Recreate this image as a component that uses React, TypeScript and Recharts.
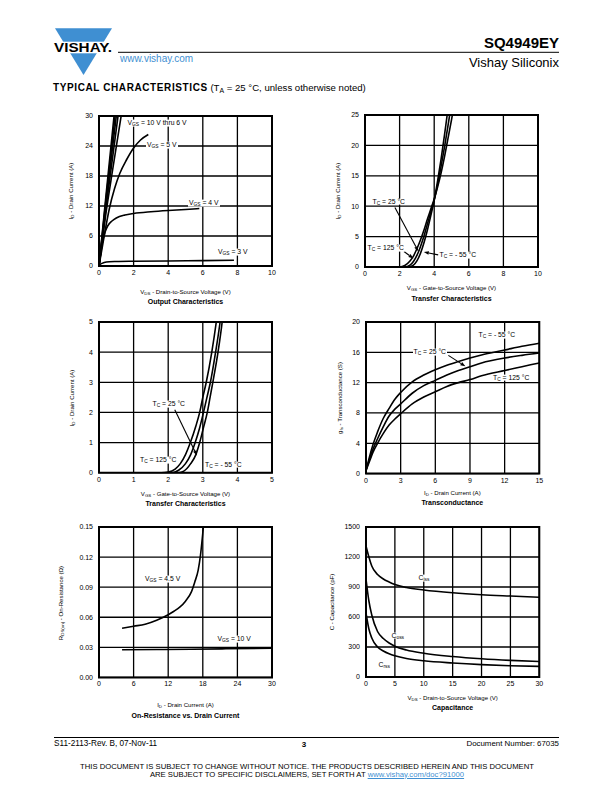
import React from "react";
import { LineChart, Line, XAxis, YAxis, CartesianGrid, ReferenceArea, ReferenceLine } from "recharts";

const FONT = '"Liberation Sans", Arial, Helvetica, sans-serif';
const BLUE = "#3f8fd2";

type Pt = [number, number];

// Output characteristics (VDS, ID)
const outVgs10: Pt[] = [[0, 0], [0.4, 14], [0.87, 30]];
const outVgs9: Pt[] = [[0, 0], [0.4, 13.2], [0.93, 30]];
const outVgs8: Pt[] = [[0, 0], [0.4, 12.4], [1.0, 30]];
const outVgs7: Pt[] = [[0, 0], [0.4, 11.5], [1.1, 30]];
const outVgs6: Pt[] = [[0, 0], [0.4, 10.5], [0.8, 19.5], [1.28, 30]];
const outVgs5: Pt[] = [[0, 0], [0.3, 6], [0.6, 11.5], [0.9, 15.5], [1.2, 18.5], [1.6, 21.3], [2.0, 23.6], [2.4, 25.2], [2.85, 26.3]];
const outVgs4: Pt[] = [[0, 0], [0.1, 2.5], [0.2, 4.8], [0.35, 6.8], [0.5, 8.0], [0.75, 9.0], [1.0, 9.6], [1.5, 10.2], [2, 10.5], [3, 10.85], [4, 11.1], [5, 11.3], [5.8, 11.5]];
const outVgs3: Pt[] = [[0, 0], [0.1, 0.4], [0.3, 0.7], [0.6, 0.85], [1, 0.9], [2, 0.95], [4, 1.0], [6, 1.08], [7.8, 1.15]];

// Transfer characteristics, 0 - 25 A (VGS, ID)
const xferWideM55: Pt[] = [[0, 0], [2.5, 0], [2.8, 0.3], [3.0, 1.0], [3.2, 2.2], [3.4, 3.9], [3.6, 6.0], [3.8, 8.4], [4.0, 11.0], [4.2, 14.2], [4.4, 17.8], [4.6, 21.8], [4.75, 25], [4.85, 27]];
const xferWide25: Pt[] = [[0, 0], [2.3, 0], [2.6, 0.3], [2.8, 0.9], [3.0, 1.9], [3.2, 3.3], [3.4, 5], [3.6, 7], [3.8, 9], [4.0, 11], [4.2, 13.6], [4.4, 16.6], [4.6, 19.8], [4.8, 23.3], [4.9, 25.1], [5.0, 27]];
const xferWide125: Pt[] = [[0, 0], [2.0, 0], [2.3, 0.25], [2.6, 1.0], [2.8, 1.8], [3.0, 3], [3.2, 4.4], [3.4, 6], [3.6, 7.8], [3.8, 9.5], [4.0, 11.2], [4.2, 13.2], [4.4, 15.5], [4.6, 18.2], [4.8, 21.2], [5.0, 24.2], [5.1, 25.8]];

// Transfer characteristics, 0 - 5 A
const xferLow125: Pt[] = [[0, 0], [1.8, 0], [2.0, 0.02], [2.2, 0.12], [2.35, 0.3], [2.5, 0.6], [2.64, 1], [2.8, 1.55], [2.91, 2], [3.0, 2.5], [3.1, 3], [3.26, 4], [3.39, 5], [3.5, 6]];
const xferLow25: Pt[] = [[0, 0], [2.1, 0], [2.3, 0.08], [2.5, 0.3], [2.65, 0.6], [2.78, 1], [2.9, 1.45], [3.02, 2], [3.12, 2.5], [3.22, 3], [3.37, 4], [3.5, 5], [3.6, 6]];
const xferLowM55: Pt[] = [[0, 0], [2.3, 0], [2.45, 0.05], [2.65, 0.3], [2.8, 0.6], [2.91, 1], [3.02, 1.5], [3.13, 2], [3.21, 2.5], [3.29, 3], [3.44, 4], [3.56, 5], [3.65, 6]];

// Transconductance (ID, gfs)
const gfsId = [0, 0.3, 0.6, 1, 1.5, 2, 2.5, 3, 4, 5, 6, 7, 8, 9, 10, 12, 13.5, 15];
const gfsM55 = [0.4, 2.2, 3.8, 5.5, 7.3, 8.6, 9.8, 10.7, 12.1, 13.0, 13.7, 14.3, 14.8, 15.25, 15.65, 16.3, 16.8, 17.2];
const gfs25 = [0.4, 1.9, 3.2, 4.6, 6.2, 7.6, 8.5, 9.2, 10.6, 11.6, 12.3, 13.0, 13.6, 14.1, 14.6, 15.25, 15.6, 15.9];
const gfs125 = [0.4, 1.6, 2.8, 4.0, 5.3, 6.4, 7.2, 7.9, 9.2, 10.1, 10.8, 11.5, 12.0, 12.4, 12.9, 13.6, 14.1, 14.6];

// On-resistance (ID, RDS(on))
const rdsId45 = [4, 6, 8, 10, 12, 13, 14, 15, 16, 16.6, 17.2, 17.6, 18.1];
const rds45 = [0.049, 0.051, 0.053, 0.057, 0.0625, 0.066, 0.07, 0.076, 0.085, 0.095, 0.107, 0.122, 0.15];
const rdsId10 = [4, 10, 16, 22, 30];
const rds10 = [0.0275, 0.0278, 0.028, 0.0285, 0.029];

// Capacitance (VDS, pF)
const capVds = [0, 0.5, 1, 2, 3, 4, 5, 7, 10, 15, 20, 25, 30];
const ciss = [1310, 1200, 1110, 1025, 980, 950, 925, 895, 870, 842, 823, 810, 798];
const coss = [980, 760, 620, 455, 385, 340, 308, 270, 238, 205, 182, 166, 155];
const crss = [640, 480, 390, 300, 260, 232, 212, 185, 162, 140, 124, 113, 106];

const zip = (xs: number[], ys: number[]): Pt[] => xs.map((x, i) => [x, ys[i]]);
const toPts = (a: Pt[]) => a.map(([x, y]) => ({ x, y }));

const Sub = ({ children }: { children: React.ReactNode }) => (
  <span style={{ fontSize: "0.72em", verticalAlign: "-0.3em", lineHeight: 0 }}>{children}</span>
);

const Note = ({ x, y, children }: { x: number; y: number; children: React.ReactNode }) => (
  <div
    style={{
      position: "absolute",
      left: x,
      top: y,
      transform: "translateY(-50%)",
      background: "#fff",
      whiteSpace: "nowrap",
      fontSize: 6.8,
      lineHeight: 1,
      padding: "0 1px",
    }}
  >
    {children}
  </div>
);

const ArrowShape = (p: any) => {
  const { x1, y1, x2, y2 } = p;
  if ([x1, y1, x2, y2].some((v) => typeof v !== "number" || isNaN(v))) return <g />;
  const a = Math.atan2(y2 - y1, x2 - x1);
  const L = 5;
  const W = 1.8;
  const bx = x2 - L * Math.cos(a);
  const by = y2 - L * Math.sin(a);
  const pts = `${x2},${y2} ${bx + W * Math.sin(a)},${by - W * Math.cos(a)} ${bx - W * Math.sin(a)},${by + W * Math.cos(a)}`;
  return (
    <g>
      <line x1={x1} y1={y1} x2={bx} y2={by} stroke="#000" strokeWidth={1.1} />
      <polygon points={pts} fill="#000" />
    </g>
  );
};

const tickStyle = { fontSize: 7, fill: "#000", fontFamily: FONT };

interface PanelProps {
  box: [number, number, number, number];
  xDomain: [number, number];
  yDomain: [number, number];
  xTicks: number[];
  yTicks: number[];
  yFmt?: (v: number) => string;
  series: Pt[][];
  arrows?: [number, number, number, number][];
  xLabel: React.ReactNode;
  yLabel: React.ReactNode;
  title: string;
  xLabY: number;
  titleY: number;
  yLabX: number;
  children?: React.ReactNode;
}

function Panel(props: PanelProps) {
  const [l, t, w, h] = props.box;
  const ML = 40, MT = 8, MR = 12, MB = 20;
  const [x0, x1] = props.xDomain;
  const [y0, y1] = props.yDomain;
  return (
    <>
      <div style={{ position: "absolute", left: l - ML, top: t - MT }}>
        <LineChart width={w + ML + MR} height={h + MT + MB} margin={{ top: MT, right: MR, left: 0, bottom: 0 }}>
          <CartesianGrid stroke="#000" strokeWidth={1.3} />
          <XAxis
            type="number"
            dataKey="x"
            domain={props.xDomain}
            ticks={props.xTicks}
            interval={0}
            allowDataOverflow
            height={MB}
            axisLine={false}
            tickLine={false}
            tickSize={3}
            tickMargin={1}
            tick={tickStyle}
          />
          <YAxis
            type="number"
            domain={props.yDomain}
            ticks={props.yTicks}
            interval={0}
            allowDataOverflow
            width={ML}
            axisLine={false}
            tickLine={false}
            tickSize={4}
            tickMargin={2}
            tick={tickStyle}
            tickFormatter={props.yFmt}
          />
          {props.series.map((s, i) => (
            <Line
              key={i}
              data={toPts(s)}
              dataKey="y"
              type="monotone"
              stroke="#000"
              strokeWidth={1.6}
              dot={false}
              activeDot={false}
              isAnimationActive={false}
            />
          ))}
          {(props.arrows || []).map((a, i) => (
            <ReferenceLine
              key={"a" + i}
              segment={[{ x: a[0], y: a[1] }, { x: a[2], y: a[3] }]}
              shape={ArrowShape}
            />
          ))}
          <ReferenceArea x1={x0} x2={x1} y1={y0} y2={y1} fill="none" stroke="#000" strokeWidth={2} />
        </LineChart>
      </div>
      <div
        style={{
          position: "absolute", left: l, width: w, top: props.xLabY, transform: "translateY(-50%)",
          textAlign: "center", fontSize: 6.1, lineHeight: 1, whiteSpace: "nowrap",
        }}
      >
        {props.xLabel}
      </div>
      <div
        style={{
          position: "absolute", left: l, width: w, top: props.titleY, transform: "translateY(-50%)",
          textAlign: "center", fontSize: 7, fontWeight: "bold", lineHeight: 1, whiteSpace: "nowrap",
        }}
      >
        {props.title}
      </div>
      <div
        style={{
          position: "absolute", left: props.yLabX, top: t + h / 2,
          transform: "translate(-50%,-50%) rotate(-90deg)", whiteSpace: "nowrap", fontSize: 6.1, lineHeight: 1,
        }}
      >
        {props.yLabel}
      </div>
      {props.children}
    </>
  );
}

export default function App() {
  return (
    <div
      style={{
        position: "absolute", left: 0, top: 0, width: 612, height: 792, background: "#fff",
        fontFamily: FONT, color: "#000", overflow: "hidden",
      }}
    >
      {/* header */}
      <svg style={{ position: "absolute", left: 0, top: 0 }} width={612} height={100}>
        <polygon points="55,28.3 112,28.3 83.5,75" fill={BLUE} />
        <rect x={50} y={41.7} width={66} height={11.6} fill="#fff" />
        <text x={54} y={52.4} fontFamily={FONT} fontWeight="bold" fontSize={13.5} textLength={58} lengthAdjust="spacingAndGlyphs">
          VISHAY.
        </text>
        <line x1={118} y1={52.3} x2={559} y2={52.3} stroke="#000" strokeWidth={1} />
      </svg>
      <div style={{ position: "absolute", right: 612 - 559, top: 41.5, transform: "translateY(-50%)", fontSize: 15, fontWeight: "bold", lineHeight: 1 }}>
        SQ4949EY
      </div>
      <div style={{ position: "absolute", right: 612 - 559, top: 62, transform: "translateY(-50%)", fontSize: 13, lineHeight: 1 }}>
        Vishay Siliconix
      </div>
      <div style={{ position: "absolute", left: 120, top: 58.5, transform: "translateY(-50%)", fontSize: 10, lineHeight: 1, color: BLUE }}>
        www.vishay.com
      </div>
      <div style={{ position: "absolute", left: 53, top: 88, transform: "translateY(-50%)", fontSize: 9.6, lineHeight: 1, whiteSpace: "nowrap" }}>
        <b style={{ fontSize: 10, fontWeight: 900, letterSpacing: 0.6 }}>TYPICAL CHARACTERISTICS</b> (T<Sub>A</Sub> = 25 °C, unless otherwise noted)
      </div>

      {/* Output characteristics */}
      <Panel
        box={[99, 116, 173, 150]}
        xDomain={[0, 10]}
        yDomain={[0, 30]}
        xTicks={[0, 2, 4, 6, 8, 10]}
        yTicks={[0, 6, 12, 18, 24, 30]}
        series={[outVgs10, outVgs9, outVgs8, outVgs7, outVgs6, outVgs5, outVgs4, outVgs3]}
        xLabel={<>V<Sub>DS</Sub> - Drain-to-Source Voltage (V)</>}
        yLabel={<>I<Sub>D</Sub> - Drain Current (A)</>}
        title="Output Characteristics"
        xLabY={292}
        titleY={301}
        yLabX={71}
      >
        <Note x={126.5} y={123.3}>V<Sub>GS</Sub> = 10 V thru 6 V</Note>
        <Note x={146} y={145}>V<Sub>GS</Sub> = 5 V</Note>
        <Note x={188} y={203.3}>V<Sub>GS</Sub> = 4 V</Note>
        <Note x={217} y={252.3}>V<Sub>GS</Sub> = 3 V</Note>
      </Panel>

      {/* Transfer characteristics 0-25 A */}
      <Panel
        box={[365, 114.5, 173, 152]}
        xDomain={[0, 10]}
        yDomain={[0, 25]}
        xTicks={[0, 2, 4, 6, 8, 10]}
        yTicks={[0, 5, 10, 15, 20, 25]}
        series={[xferWideM55, xferWide25, xferWide125]}
        arrows={[[1.73, 9.8, 3.08, 2.6], [2.25, 2.55, 2.8, 1.4], [4.23, 2.0, 3.4, 2.45]]}
        xLabel={<>V<Sub>GS</Sub> - Gate-to-Source Voltage (V)</>}
        yLabel={<>I<Sub>D</Sub> - Drain Current (A)</>}
        title="Transfer Characteristics"
        xLabY={288}
        titleY={297.5}
        yLabX={338}
      >
        <Note x={371.5} y={201.7}>T<Sub>C</Sub> = 25 °C</Note>
        <Note x={366.5} y={248.3}>T<Sub>C</Sub> = 125 °C</Note>
        <Note x={438.5} y={255}>T<Sub>C</Sub> = - 55 °C</Note>
      </Panel>

      {/* Transfer characteristics 0-5 A */}
      <Panel
        box={[99, 322.3, 173, 150.7]}
        xDomain={[0, 5]}
        yDomain={[0, 5]}
        xTicks={[0, 1, 2, 3, 4, 5]}
        yTicks={[0, 1, 2, 3, 4, 5]}
        series={[xferLow125, xferLow25, xferLowM55]}
        arrows={[[2.19, 2.09, 2.83, 0.57]]}
        xLabel={<>V<Sub>GS</Sub> - Gate-to-Source Voltage (V)</>}
        yLabel={<>I<Sub>D</Sub> - Drain Current (A)</>}
        title="Transfer Characteristics"
        xLabY={493.5}
        titleY={502.7}
        yLabX={72}
      >
        <Note x={151.5} y={404}>T<Sub>C</Sub> = 25 °C</Note>
        <Note x={139} y={460}>T<Sub>C</Sub> = 125 °C</Note>
        <Note x={204} y={464.7}>T<Sub>C</Sub> = - 55 °C</Note>
      </Panel>

      {/* Transconductance */}
      <Panel
        box={[365.7, 321.7, 173.3, 151.6]}
        xDomain={[0, 15]}
        yDomain={[0, 20]}
        xTicks={[0, 3, 6, 9, 12, 15]}
        yTicks={[0, 4, 8, 12, 16, 20]}
        series={[zip(gfsId, gfsM55), zip(gfsId, gfs25), zip(gfsId, gfs125)]}
        arrows={[[7.13, 15.6, 8.6, 14.15]]}
        xLabel={<>I<Sub>D</Sub> - Drain Current (A)</>}
        yLabel={<>g<Sub>fs</Sub> - Transconductance (S)</>}
        title="Transconductance"
        xLabY={493}
        titleY={502}
        yLabX={340}
      >
        <Note x={477.5} y={335}>T<Sub>C</Sub> = - 55 °C</Note>
        <Note x={412.5} y={352.3}>T<Sub>C</Sub> = 25 °C</Note>
        <Note x={492} y={377.7}>T<Sub>C</Sub> = 125 °C</Note>
      </Panel>

      {/* On-resistance */}
      <Panel
        box={[99, 527.3, 173, 150.4]}
        xDomain={[0, 30]}
        yDomain={[0, 0.15]}
        xTicks={[0, 6, 12, 18, 24, 30]}
        yTicks={[0, 0.03, 0.06, 0.09, 0.12, 0.15]}
        yFmt={(v: number) => v.toFixed(2)}
        series={[zip(rdsId45, rds45), zip(rdsId10, rds10)]}
        xLabel={<>I<Sub>D</Sub> - Drain Current (A)</>}
        yLabel={<>R<Sub>DS(on)</Sub> - On-Resistance (Ω)</>}
        title="On-Resistance vs. Drain Current"
        xLabY={705}
        titleY={714.5}
        yLabX={61}
      >
        <Note x={144} y={579}>V<Sub>GS</Sub> = 4.5 V</Note>
        <Note x={216.5} y={639.3}>V<Sub>GS</Sub> = 10 V</Note>
      </Panel>

      {/* Capacitance */}
      <Panel
        box={[366, 527.3, 173.3, 150]}
        xDomain={[0, 30]}
        yDomain={[0, 1500]}
        xTicks={[0, 5, 10, 15, 20, 25, 30]}
        yTicks={[0, 300, 600, 900, 1200, 1500]}
        series={[zip(capVds, ciss), zip(capVds, coss), zip(capVds, crss)]}
        xLabel={<>V<Sub>DS</Sub> - Drain-to-Source Voltage (V)</>}
        yLabel={<>C - Capacitance (pF)</>}
        title="Capacitance"
        xLabY={697.7}
        titleY={707}
        yLabX={332}
      >
        <Note x={417.5} y={578.3}>C<Sub>iss</Sub></Note>
        <Note x={390.5} y={635.7}>C<Sub>oss</Sub></Note>
        <Note x={377.5} y={665}>C<Sub>rss</Sub></Note>
      </Panel>

      {/* footer */}
      <div style={{ position: "absolute", left: 54, top: 737, width: 505, height: 1, background: "#000" }} />
      <div style={{ position: "absolute", left: 54, top: 744, transform: "translateY(-50%)", fontSize: 8.2, lineHeight: 1 }}>
        S11-2113-Rev. B, 07-Nov-11
      </div>
      <div style={{ position: "absolute", left: 304, top: 744.5, transform: "translate(-50%,-50%)", fontSize: 8, fontWeight: "bold", lineHeight: 1 }}>
        3
      </div>
      <div style={{ position: "absolute", right: 612 - 559, top: 744, transform: "translateY(-50%)", fontSize: 7.9, lineHeight: 1 }}>
        Document Number: 67035
      </div>
      <div style={{ position: "absolute", left: 0, width: 614, top: 762.9, textAlign: "center", fontSize: 7.7, lineHeight: "7.6px", whiteSpace: "nowrap" }}>
        THIS DOCUMENT IS SUBJECT TO CHANGE WITHOUT NOTICE. THE PRODUCTS DESCRIBED HEREIN AND THIS DOCUMENT
      </div>
      <div style={{ position: "absolute", left: 0, width: 614, top: 770.5, textAlign: "center", fontSize: 7.7, lineHeight: "7.6px", whiteSpace: "nowrap" }}>
        ARE SUBJECT TO SPECIFIC DISCLAIMERS, SET FORTH AT{" "}
        <span style={{ color: BLUE, textDecoration: "underline" }}>www.vishay.com/doc?91000</span>
      </div>
    </div>
  );
}
